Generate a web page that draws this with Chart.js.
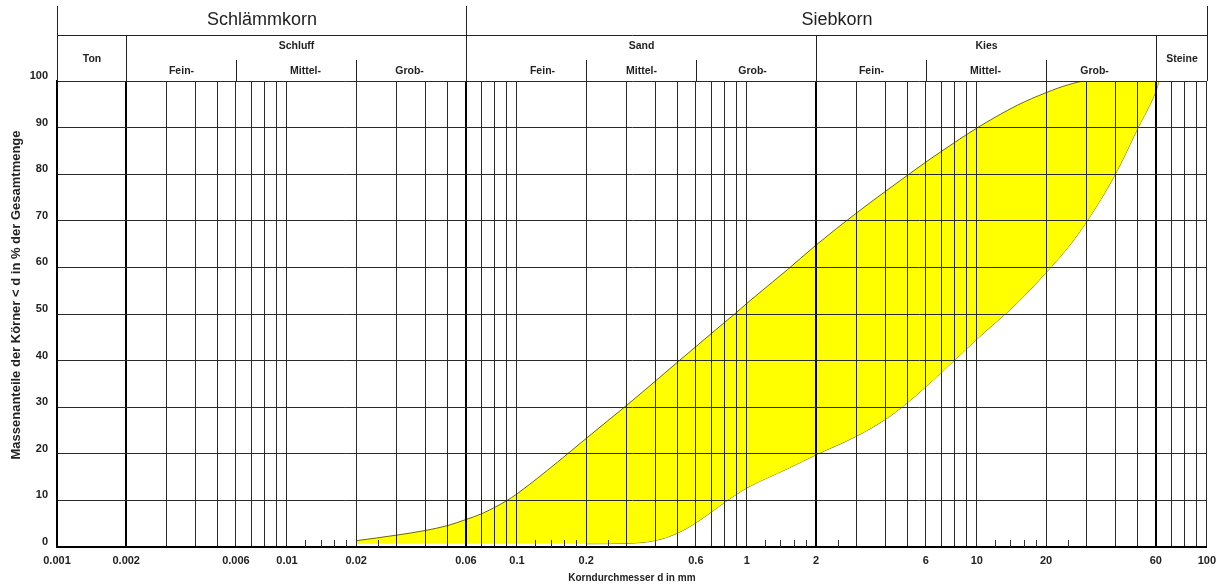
<!DOCTYPE html>
<html>
<head>
<meta charset="utf-8">
<script src="https://cdn.jsdelivr.net/npm/chart.js@4/dist/chart.umd.min.js"></script>
<style>
  html, body { margin: 0; padding: 0; background: #fff; }
  #wrap { position: relative; width: 1223px; height: 586px; }
</style>
</head>
<body>
<div id="wrap"><canvas id="grading"></canvas></div>
<script>
// Sieve sizes (mm) and the two envelope curves of the grading band (% passing)
const sieveSizes   = [0.02, 0.03, 0.04, 0.05, 0.06, 0.07, 0.08, 0.09, 0.1, 0.15, 0.2, 0.3, 0.4, 0.5, 0.6, 0.7, 0.8, 0.9, 1, 1.5, 2, 3, 4, 5, 6, 8, 10, 15, 20, 25, 30, 40, 50, 60, 62];
const upperPassing = [1.35, 2.55, 3.55, 4.6, 5.9, 7.1, 8.5, 9.9, 11.4, 18.2, 23.3, 30.4, 35.6, 39.7, 43.0, 45.8, 48.2, 50.3, 52.3, 59.5, 64.8, 71.7, 76.3, 79.8, 82.6, 86.8, 89.9, 94.8, 97.5, 99.2, 100, 100, 100, 100, 100];
const lowerPassing = [0.7, 0.7, 0.7, 0.7, 0.7, 0.7, 0.7, 0.7, 0.7, 0.7, 0.7, 0.8, 1.4, 3.0, 5.2, 7.5, 9.6, 11.3, 12.7, 16.8, 19.8, 23.8, 27.4, 31.0, 34.4, 40.1, 44.6, 52.4, 58.9, 64.4, 69.8, 80.0, 89.8, 97.8, 100];

// Vertical grid lines of the log paper (mm)
const gridValues = [0.001, 0.002, 0.003, 0.004, 0.005, 0.006, 0.007, 0.008, 0.009,
                    0.01, 0.02, 0.03, 0.04, 0.05, 0.06, 0.07, 0.08, 0.09,
                    0.1, 0.2, 0.3, 0.4, 0.5, 0.6, 0.7, 0.8, 0.9,
                    1, 2, 3, 4, 5, 6, 7, 8, 9,
                    10, 20, 30, 40, 50, 60, 70, 80, 90, 100];
// Short marks at the foot of the grid (mm)
const minorMarks = [0.012, 0.014, 0.016, 0.018, 0.025,
                    0.12, 0.14, 0.16, 0.18, 0.25,
                    1.2, 1.4, 1.6, 1.8, 2.5,
                    12, 14, 16, 18, 25];
// Labelled diameters on the x axis
const tickLabels = ['0.001', '0.002', '0.006', '0.01', '0.02', '0.06', '0.1', '0.2', '0.6', '1', '2', '6', '10', '20', '60', '100'];
// Main soil-class boundaries drawn as heavy lines
const boundaryValues = [0.002, 0.06, 2, 60];

// Header classification
const mainGroups = [
  { name: 'Schlämmkorn', from: 0.001, to: 0.06 },
  { name: 'Siebkorn',    from: 0.06,  to: 100 }
];
const soilGroups = [
  { name: 'Ton',     from: 0.001, to: 0.002, split: false },
  { name: 'Schluff', from: 0.002, to: 0.06,  split: true },
  { name: 'Sand',    from: 0.06,  to: 2,     split: true },
  { name: 'Kies',    from: 2,     to: 60,    split: true },
  { name: 'Steine',  from: 60,    to: 100,   split: false }
];
const subGroups = [
  { name: 'Fein-',   from: 0.002, to: 0.006, shift: 0 },
  { name: 'Mittel-', from: 0.006, to: 0.02,  shift: 9 },
  { name: 'Grob-',   from: 0.02,  to: 0.06,  shift: -2 },
  { name: 'Fein-',   from: 0.06,  to: 0.2,   shift: 16 },
  { name: 'Mittel-', from: 0.2,   to: 0.6,   shift: 0 },
  { name: 'Grob-',   from: 0.6,   to: 2,     shift: -4 },
  { name: 'Fein-',   from: 2,     to: 6,     shift: 0 },
  { name: 'Mittel-', from: 6,     to: 20,    shift: -1 },
  { name: 'Grob-',   from: 20,    to: 60,    shift: -7 }
];

const FONT = "'Liberation Sans', Arial, sans-serif";
const INK = '#222';
const OUTLINE = 'rgba(95, 95, 10, 0.95)';
const near = (a, b) => Math.abs(a - b) < 1e-9 * Math.max(1, Math.abs(b));

const headerPlugin = {
  id: 'gradingFrame',
  afterDraw(chart) {
    const ctx = chart.ctx;
    const xs = chart.scales.x;
    const area = chart.chartArea;
    const px = v => Math.round(xs.getPixelForValue(v)) + 0.5;
    const top = 6, rowSplit = 35.5, subTop = 60, bottom = area.top;

    ctx.save();
    // short foot marks
    ctx.strokeStyle = '#333';
    ctx.lineWidth = 1;
    ctx.beginPath();
    minorMarks.forEach(v => {
      const x = px(v);
      ctx.moveTo(x, area.bottom);
      ctx.lineTo(x, area.bottom - 7);
    });
    ctx.stroke();

    // header frame
    ctx.strokeStyle = '#222';
    ctx.beginPath();
    [0.001, 0.06, 100].forEach(v => { ctx.moveTo(px(v), top); ctx.lineTo(px(v), bottom); });
    ctx.moveTo(px(0.001), rowSplit); ctx.lineTo(px(100), rowSplit);
    [0.002, 2, 60].forEach(v => { ctx.moveTo(px(v), rowSplit); ctx.lineTo(px(v), bottom); });
    [0.006, 0.02, 0.2, 0.6, 6, 20].forEach(v => { ctx.moveTo(px(v), subTop); ctx.lineTo(px(v), bottom); });
    ctx.stroke();

    ctx.fillStyle = INK;
    ctx.textAlign = 'center';
    ctx.textBaseline = 'middle';
    ctx.font = `18px ${FONT}`;
    mainGroups.forEach(g => ctx.fillText(g.name, (px(g.from) + px(g.to)) / 2, 20));
    ctx.font = `bold 10.5px ${FONT}`;
    soilGroups.forEach(g => ctx.fillText(g.name, (px(g.from) + px(g.to)) / 2, g.split ? 46 : 59));
    subGroups.forEach(g => ctx.fillText(g.name, (px(g.from) + px(g.to)) / 2 + g.shift, 71));

    // axis titles
    ctx.font = `bold 10px ${FONT}`;
    ctx.fillText('Korndurchmesser d in mm', (area.left + area.right) / 2, 578);
    ctx.font = `bold 13px ${FONT}`;
    ctx.translate(16, 295);
    ctx.rotate(-Math.PI / 2);
    ctx.fillText('Massenanteile der Körner < d in % der Gesamtmenge', 0, 0);
    ctx.restore();
  }
};

const upperPoints = sieveSizes.map((d, i) => ({ x: d, y: upperPassing[i] }));
const lowerPoints = sieveSizes.map((d, i) => ({ x: d, y: lowerPassing[i] }));
// the flat foot of the lower envelope is drawn without an outline
const lowerOutline = lowerPoints.filter(p => p.x >= 0.2);

new Chart(document.getElementById('grading'), {
  type: 'scatter',
  data: {
    datasets: [
      {
        label: 'obere Grenze',
        data: upperPoints,
        showLine: true,
        pointRadius: 0,
        borderColor: OUTLINE,
        borderWidth: 1,
        backgroundColor: '#ffff00',
        cubicInterpolationMode: 'monotone',
        fill: '+1'
      },
      {
        label: 'untere Grenze',
        data: lowerPoints,
        showLine: true,
        pointRadius: 0,
        borderColor: 'rgba(0,0,0,0)',
        borderWidth: 0,
        cubicInterpolationMode: 'monotone',
        fill: false
      },
      {
        label: 'untere Grenze Linie',
        data: lowerOutline,
        showLine: true,
        pointRadius: 0,
        borderColor: OUTLINE,
        borderWidth: 1,
        cubicInterpolationMode: 'monotone',
        fill: false
      }
    ]
  },
  options: {
    responsive: true,
    maintainAspectRatio: false,
    devicePixelRatio: 1,
    animation: false,
    layout: { padding: { top: 81, right: 16, left: 0, bottom: 0 } },
    plugins: {
      legend: { display: false },
      tooltip: { enabled: false }
    },
    scales: {
      x: {
        type: 'logarithmic',
        min: 0.001,
        max: 100,
        afterBuildTicks: scale => { scale.ticks = gridValues.map(v => ({ value: v })); },
        afterFit: scale => { scale.height = 39; },
        border: { display: true, color: '#000', width: 2, z: 2 },
        grid: {
          z: 1,
          drawTicks: false,
          color: c => boundaryValues.some(b => near(c.tick.value, b)) ? '#000' : '#2a2a2a',
          lineWidth: c => boundaryValues.some(b => near(c.tick.value, b)) ? 2 : 1
        },
        ticks: {
          autoSkip: false,
          maxRotation: 0,
          minRotation: 0,
          padding: 7,
          color: INK,
          font: { family: FONT, size: 11, weight: 'bold' },
          callback: value => {
            const lbl = tickLabels.find(t => near(parseFloat(t), value));
            return lbl === undefined ? '' : lbl;
          }
        }
      },
      y: {
        min: 0,
        max: 100,
        afterFit: scale => { scale.width = 57; },
        border: { display: true, color: '#000', width: 2, z: 2 },
        grid: { z: 1, drawTicks: false, color: '#2a2a2a', lineWidth: 1 },
        ticks: {
          stepSize: 10,
          padding: 9,
          labelOffset: -5,
          color: INK,
          font: { family: FONT, size: 11, weight: 'bold' }
        }
      }
    }
  },
  plugins: [headerPlugin]
});
</script>
</body>
</html>
